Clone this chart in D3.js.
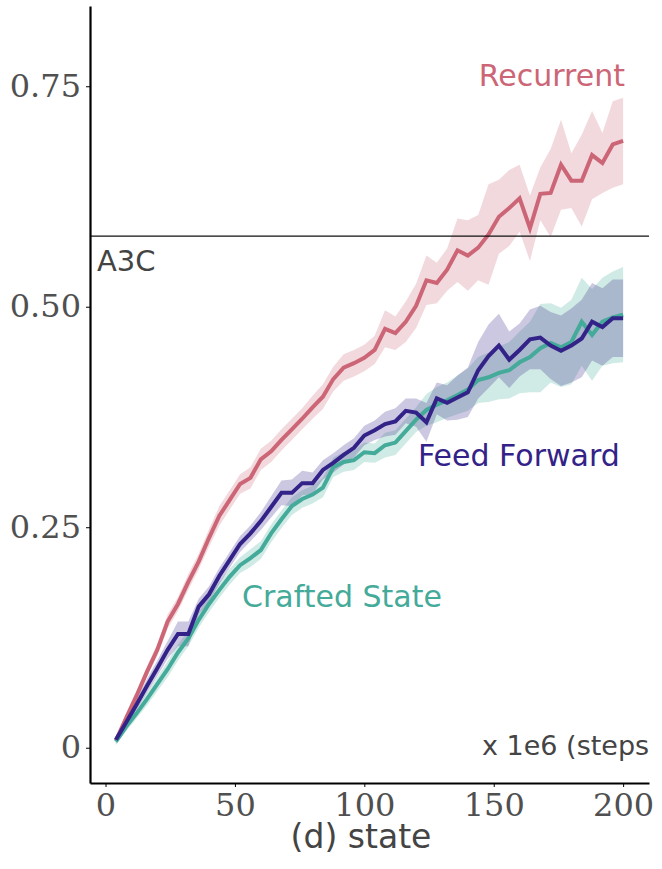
<!DOCTYPE html>
<html>
<head>
<meta charset="utf-8">
<script src="https://cdn.jsdelivr.net/npm/d3@7"></script>
<style>
  body { margin: 0; background: #fff; }
  svg text { font-family: "DejaVu Sans", sans-serif; }
</style>
</head>
<body>
<div id="chart"></div>
<script>
// training steps (x 1e6)
const steps = [4, 8, 12, 16, 20, 24, 28, 32, 36, 40, 44, 48, 52, 56, 60, 64, 68, 72, 76, 80,
               84, 88, 92, 96, 100, 104, 108, 112, 116, 120, 124, 128, 132, 136, 140, 144, 148, 152, 156, 160,
               164, 168, 172, 176, 180, 184, 188, 192, 196, 200];

const recurrentMean = [0.008, 0.034, 0.059, 0.086, 0.111, 0.143, 0.163, 0.188, 0.211, 0.238,
                       0.263, 0.281, 0.299, 0.306, 0.327, 0.336, 0.349, 0.361, 0.373, 0.386,
                       0.398, 0.418, 0.431, 0.436, 0.442, 0.451, 0.475, 0.470, 0.483, 0.501,
                       0.530, 0.527, 0.542, 0.564, 0.558, 0.567, 0.582, 0.602, 0.612, 0.623,
                       0.589, 0.628, 0.629, 0.661, 0.643, 0.643, 0.672, 0.663, 0.684, 0.688];
const recurrentErr = [0.004, 0.005, 0.006, 0.006, 0.007, 0.008, 0.008, 0.009, 0.009, 0.010,
                      0.011, 0.011, 0.011, 0.012, 0.012, 0.012, 0.012, 0.012, 0.012, 0.013,
                      0.014, 0.014, 0.015, 0.015, 0.015, 0.016, 0.021, 0.019, 0.023, 0.025,
                      0.028, 0.023, 0.024, 0.036, 0.040, 0.037, 0.057, 0.042, 0.043, 0.038,
                      0.037, 0.030, 0.050, 0.051, 0.031, 0.052, 0.050, 0.034, 0.049, 0.049];

const feedForwardMean = [0.009, 0.029, 0.049, 0.070, 0.090, 0.111, 0.129, 0.129, 0.160, 0.174,
                         0.195, 0.213, 0.231, 0.243, 0.257, 0.273, 0.289, 0.289, 0.300, 0.300,
                         0.315, 0.323, 0.332, 0.340, 0.354, 0.360, 0.367, 0.370, 0.382, 0.380,
                         0.369, 0.396, 0.391, 0.397, 0.403, 0.428, 0.444, 0.456, 0.440, 0.451,
                         0.463, 0.465, 0.456, 0.450, 0.456, 0.464, 0.483, 0.477, 0.487, 0.487];
const feedForwardErr = [0.004, 0.005, 0.006, 0.008, 0.009, 0.010, 0.014, 0.014, 0.009, 0.009,
                        0.009, 0.009, 0.009, 0.009, 0.010, 0.012, 0.014, 0.015, 0.014, 0.012,
                        0.011, 0.011, 0.011, 0.011, 0.011, 0.011, 0.014, 0.015, 0.014, 0.016,
                        0.022, 0.018, 0.020, 0.025, 0.028, 0.032, 0.036, 0.036, 0.032, 0.030,
                        0.034, 0.036, 0.038, 0.040, 0.042, 0.044, 0.044, 0.044, 0.044, 0.044];

const craftedMean = [0.007, 0.024, 0.039, 0.055, 0.072, 0.089, 0.108, 0.124, 0.145, 0.163,
                     0.179, 0.194, 0.207, 0.215, 0.224, 0.243, 0.259, 0.274, 0.282, 0.287,
                     0.295, 0.318, 0.324, 0.326, 0.335, 0.334, 0.343, 0.346, 0.359, 0.372,
                     0.383, 0.389, 0.394, 0.400, 0.406, 0.417, 0.420, 0.425, 0.428, 0.437,
                     0.443, 0.453, 0.459, 0.454, 0.460, 0.483, 0.468, 0.483, 0.488, 0.491];
const craftedErr = [0.004, 0.005, 0.006, 0.007, 0.008, 0.009, 0.009, 0.009, 0.009, 0.009,
                    0.009, 0.009, 0.009, 0.010, 0.010, 0.010, 0.010, 0.010, 0.010, 0.010,
                    0.011, 0.011, 0.011, 0.011, 0.011, 0.011, 0.014, 0.014, 0.014, 0.014,
                    0.018, 0.020, 0.020, 0.022, 0.024, 0.026, 0.028, 0.030, 0.032, 0.035,
                    0.040, 0.050, 0.045, 0.045, 0.048, 0.050, 0.052, 0.050, 0.052, 0.054];

const a3cScore = 0.58;
const xTicks = [0, 50, 100, 150, 200];
const yTicks = [0, 0.25, 0.5, 0.75];
const yTickLabels = ["0", "0.25", "0.50", "0.75"];

const series = [
    { name: "Recurrent", mean: recurrentMean, err: recurrentErr, color: "#cc6677" },
    { name: "Crafted State", mean: craftedMean, err: craftedErr, color: "#44aa99" },
    { name: "Feed Forward", mean: feedForwardMean, err: feedForwardErr, color: "#332288" }
];

// plot box, in page pixels
const box = { left: 90, right: 649, top: 6, bottom: 783 };

const svg = d3.select("#chart").append("svg")
    .attr("width", 662)
    .attr("height", 869);

const x = d3.scaleLinear().domain([-6, 210]).range([box.left, box.right]);
const y = d3.scaleLinear().domain([-0.04, 0.841]).range([box.bottom, box.top]);

svg.append("clipPath").attr("id", "plotclip")
  .append("rect")
    .attr("x", box.left).attr("y", box.top)
    .attr("width", box.right - box.left).attr("height", box.bottom - box.top);

const plot = svg.append("g").attr("clip-path", "url(#plotclip)");

// shaded bands then lines
series.forEach((s) => {
    const rows = steps.map((t, i) => ({ t: t, m: s.mean[i], e: s.err[i] }));
    const band = d3.area()
        .x((d) => x(d.t))
        .y0((d) => y(d.m - d.e))
        .y1((d) => y(d.m + d.e));
    plot.append("path")
        .datum(rows)
        .attr("fill", s.color)
        .attr("fill-opacity", 0.25)
        .attr("d", band);
});

series.forEach((s) => {
    const rows = steps.map((t, i) => ({ t: t, m: s.mean[i] }));
    const line = d3.line()
        .x((d) => x(d.t))
        .y((d) => y(d.m));
    plot.append("path")
        .datum(rows)
        .attr("fill", "none")
        .attr("stroke", s.color)
        .attr("stroke-width", 4)
        .attr("stroke-linejoin", "miter")
        .attr("d", line);
});

// A3C reference line
plot.append("line")
    .attr("x1", box.left).attr("x2", box.right)
    .attr("y1", y(a3cScore)).attr("y2", y(a3cScore))
    .attr("stroke", "#111")
    .attr("stroke-width", 1.2);

plot.append("text")
    .attr("x", 97).attr("y", y(a3cScore) + 35)
    .attr("fill", "#444")
    .style("font-size", "29px")
    .text("A3C");

plot.append("text")
    .attr("x", 482).attr("y", 755)
    .attr("fill", "#444")
    .style("font-size", "27px")
    .text("x 1e6 (steps)");

// series labels
plot.append("text")
    .attr("x", 625).attr("y", 86)
    .attr("text-anchor", "end")
    .attr("fill", "#cc6677")
    .style("font-size", "30px")
    .text("Recurrent");
plot.append("text")
    .attr("x", 418).attr("y", 466)
    .attr("fill", "#332288")
    .style("font-size", "30px")
    .text("Feed Forward");
plot.append("text")
    .attr("x", 242).attr("y", 607)
    .attr("fill", "#44aa99")
    .style("font-size", "30px")
    .text("Crafted State");

// axes
const xAxis = svg.append("g")
    .attr("transform", `translate(0, ${box.bottom})`)
    .call(d3.axisBottom(x).tickValues(xTicks).tickSize(4).tickSizeOuter(0).tickPadding(6));

const yAxis = svg.append("g")
    .attr("transform", `translate(${box.left}, 0)`)
    .call(d3.axisLeft(y).tickValues(yTicks).tickSize(4).tickSizeOuter(0).tickPadding(5)
        .tickFormat((d, i) => yTickLabels[i]));

[xAxis, yAxis].forEach((ax) => {
    ax.select(".domain").attr("stroke", "#000").attr("stroke-width", 2.2);
    ax.selectAll(".tick line").attr("stroke", "#000").attr("stroke-width", 1);
    ax.selectAll(".tick text")
        .attr("fill", "#505050")
        .style("font-family", "'DejaVu Serif', serif")
        .style("font-size", "32px");
});

svg.append("text")
    .attr("x", 361).attr("y", 848)
    .attr("text-anchor", "middle")
    .attr("fill", "#444")
    .style("font-size", "33px")
    .text("(d) state");
</script>
</body>
</html>
